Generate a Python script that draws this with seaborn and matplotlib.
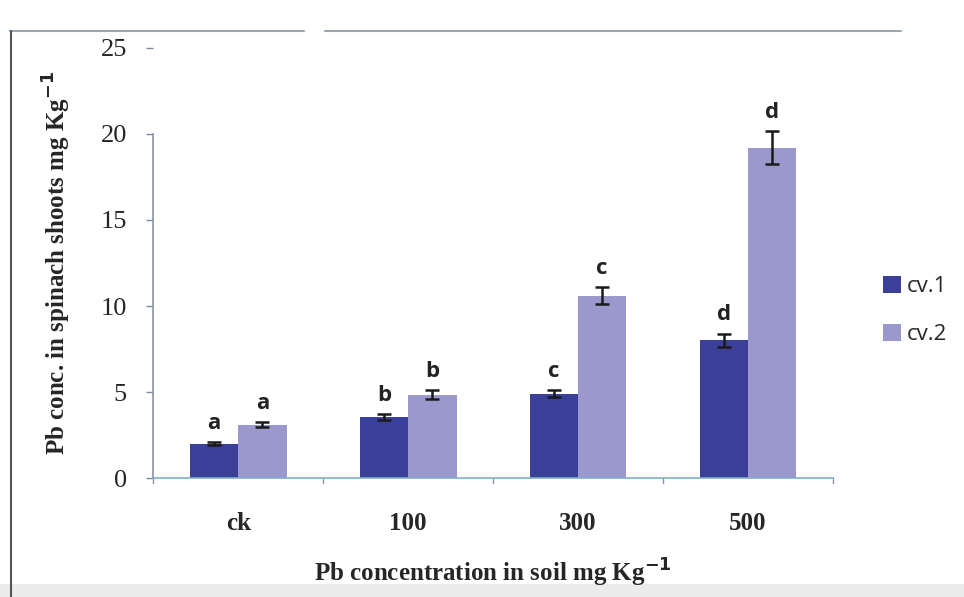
import matplotlib
matplotlib.use("Agg")
import matplotlib.pyplot as plt
import seaborn as sns
import pandas as pd
import numpy as np
from matplotlib.lines import Line2D
from matplotlib.patches import Patch, Rectangle

categories = ["ck", "100", "300", "500"]
cv1 = [2.0, 3.55, 4.9, 8.0]
cv2 = [3.1, 4.85, 10.6, 19.2]
cv1_err = [0.1, 0.15, 0.2, 0.4]
cv2_err = [0.15, 0.25, 0.5, 0.95]
cv1_letters = ["a", "b", "c", "d"]
cv2_letters = ["a", "b", "c", "d"]
series = ["cv.1", "cv.2"]
yticks = [0, 5, 10, 15, 20, 25]

df = pd.DataFrame({
    "cat": categories * 2,
    "val": cv1 + cv2,
    "err": cv1_err + cv2_err,
    "lab": cv1_letters + cv2_letters,
    "cv": [series[0]] * 4 + [series[1]] * 4,
})

sns.set_theme(style="white")
plt.rcParams["font.family"] = ["Liberation Serif", "DejaVu Serif"]

colors = {"cv.1": "#3c3f98", "cv.2": "#9b98cd"}

fig = plt.figure(figsize=(9.64, 5.97), dpi=100)
fig.patch.set_facecolor("white")
ax = fig.add_axes([0.159, 0.199, 0.705, 0.721])
ax.set_facecolor("white")

sns.barplot(data=df, x="cat", y="val", hue="cv", order=categories,
            hue_order=series, palette=colors, width=0.57, errorbar=None,
            saturation=1, linewidth=0, ax=ax, legend=False)

for cont, s in zip(ax.containers, series):
    sub = df[df["cv"] == s].set_index("cat").loc[categories]
    for bar, (v, e, l) in zip(cont, zip(sub["val"], sub["err"], sub["lab"])):
        xc = bar.get_x() + bar.get_width() / 2
        ax.errorbar(xc, v, yerr=e, fmt="none", ecolor="#1a1a1a",
                    elinewidth=1.8, capsize=5, capthick=1.8)
        ax.annotate(l, (xc, v + e), xytext=(0, 6), textcoords="offset points",
                    ha="center", va="bottom", fontsize=16, fontweight="bold",
                    family=["Open Sans", "DejaVu Sans"], color="#222222")

ax.set_ylim(0, 25)
ax.set_xlim(-0.5, 3.5)
ax.set_yticks(yticks)
ax.set_yticklabels([str(t) for t in yticks], fontsize=19)
ax.set_xticks(range(len(categories)))
ax.set_xticklabels(categories, fontsize=18, fontweight="bold")
ax.tick_params(axis="x", length=0, pad=24)
ax.tick_params(axis="y", length=5, width=1, color="#7f8aa0", pad=14, direction="out")
ax.yaxis.set_ticks_position("left")

for b in np.arange(-0.5, 4, 1.0):
    ax.plot([b, b], [0, -0.3], color="#8a93a8", lw=1, clip_on=False)

for sp in ["top", "right"]:
    ax.spines[sp].set_visible(False)
ax.spines["left"].set_bounds(0, 20)
ax.spines["left"].set_color("#8a93a8")
ax.spines["bottom"].set_color("#7fb0c8")
ax.spines["left"].set_linewidth(1.2)
ax.spines["bottom"].set_linewidth(1.2)

ax.set_xlabel("Pb concentration in soil mg Kg$^{\\mathbf{-1}}$", fontsize=18,
              fontweight="bold", labelpad=16)
ax.set_ylabel("Pb conc. in spinach shoots mg Kg$^{\\mathbf{-1}}$", fontsize=18,
              fontweight="bold", labelpad=20)

handles = [Patch(facecolor=colors[s], edgecolor="none") for s in series]
fig.legend(handles, series, loc="center left", bbox_to_anchor=(0.895, 0.48),
           frameon=False, handlelength=0.8, handleheight=0.8,
           handletextpad=0.3, labelspacing=1.2,
           prop={"family": ["Open Sans", "DejaVu Sans"], "size": 16})

# scan frame artefacts
fig.add_artist(Line2D([0.01, 0.315], [0.948, 0.948], color="#9aa6b0", lw=1.5))
fig.add_artist(Line2D([0.337, 0.935], [0.948, 0.948], color="#9aa6b0", lw=1.5))
fig.add_artist(Line2D([0.011, 0.011], [0.0, 0.948], color="#555555", lw=1.5))
band = Rectangle((0, 0), 1, 0.022, transform=fig.transFigure,
                 facecolor="#ececec", edgecolor="none", zorder=-5)
fig.patches.append(band)

fig.savefig("out.png", dpi=100)
